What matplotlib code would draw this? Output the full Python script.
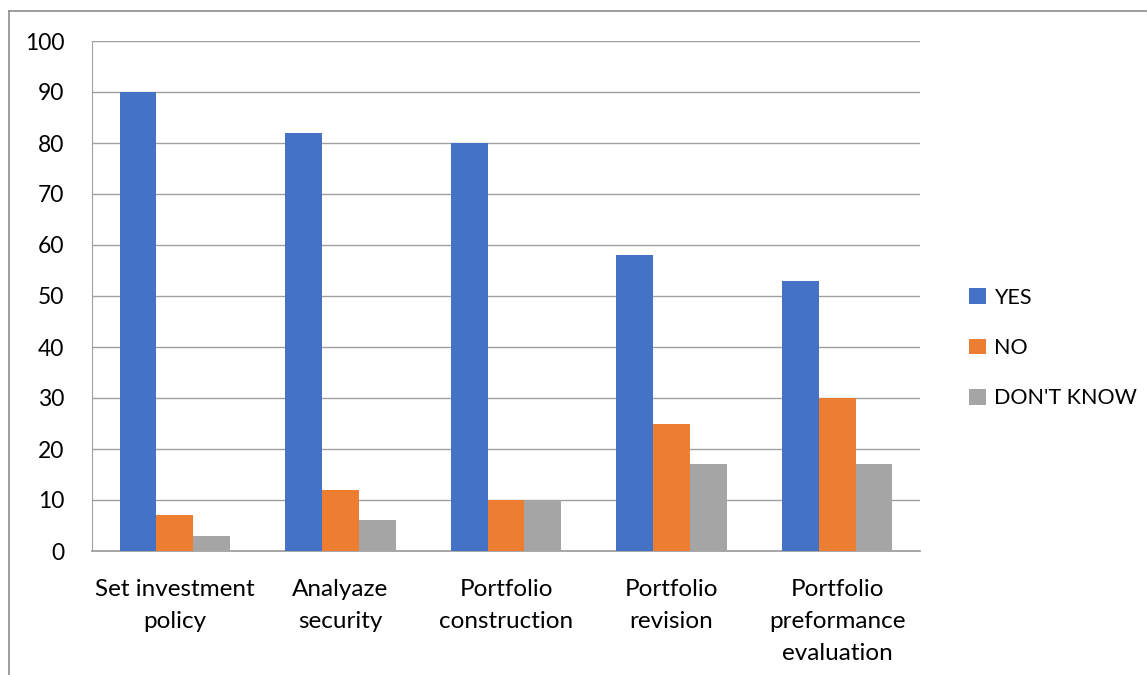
import matplotlib
matplotlib.use("Agg")
import matplotlib.pyplot as plt
from matplotlib.lines import Line2D
import numpy as np

plt.rcParams['font.family'] = ['Lato', 'DejaVu Sans']

categories = ["Set investment\npolicy", "Analyaze\nsecurity", "Portfolio\nconstruction",
              "Portfolio\nrevision", "Portfolio\npreformance\nevaluation"]
yes_vals = [90, 82, 80, 58, 53]
no_vals = [7, 12, 10, 25, 30]
dk_vals = [3, 6, 10, 17, 17]
series_names = ["YES", "NO", "DON'T KNOW"]
colors = ["#4472C4", "#ED7D31", "#A5A5A5"]

fig = plt.figure(figsize=(11.47, 6.75), dpi=100)
ax = fig.add_axes([92 / 1147, 1 - 551 / 675, (920 - 92) / 1147, (551 - 41) / 675])

x = np.arange(len(categories))
w = 1 / 4.5
for i, (vals, name, c) in enumerate(zip([yes_vals, no_vals, dk_vals], series_names, colors)):
    ax.bar(x + (i - 1) * w, vals, width=w, color=c, label=name, zorder=3)

ax.set_xlim(-0.5, len(categories) - 0.5)
ax.set_ylim(0, 100)
ax.set_yticks(range(0, 101, 10))
ax.yaxis.grid(True, color="#a0a0a0", linewidth=1.0, zorder=0)
for s in ["top", "right"]:
    ax.spines[s].set_visible(False)
ax.spines["left"].set_color("#a0a0a0")
ax.spines["bottom"].set_color("#a0a0a0")
ax.spines["bottom"].set_linewidth(1.3)
ax.set_xticks(x)
ax.set_xticklabels(categories, fontsize=17.5, linespacing=1.65, va="top")
ax.tick_params(axis="y", labelsize=16.5)
ax.tick_params(axis="both", length=0, colors="black")
ax.tick_params(axis="x", pad=20)
ax.tick_params(axis="y", pad=20)

leg = fig.legend(loc="center left", bbox_to_anchor=(950 / 1147, 1 - 348 / 675), frameon=False,
                 fontsize=15.5, handlelength=0.75, handleheight=0.75, handletextpad=0.4,
                 labelspacing=1.4)

# outer border lines of the chart area
fig.add_artist(Line2D([9 / 1147, 1], [1 - 11 / 675, 1 - 11 / 675], color="#8c8c8c", lw=1.2))
fig.add_artist(Line2D([9 / 1147, 9 / 1147], [0, 1 - 11 / 675], color="#8c8c8c", lw=1.2))

fig.savefig("out.png", dpi=100)
